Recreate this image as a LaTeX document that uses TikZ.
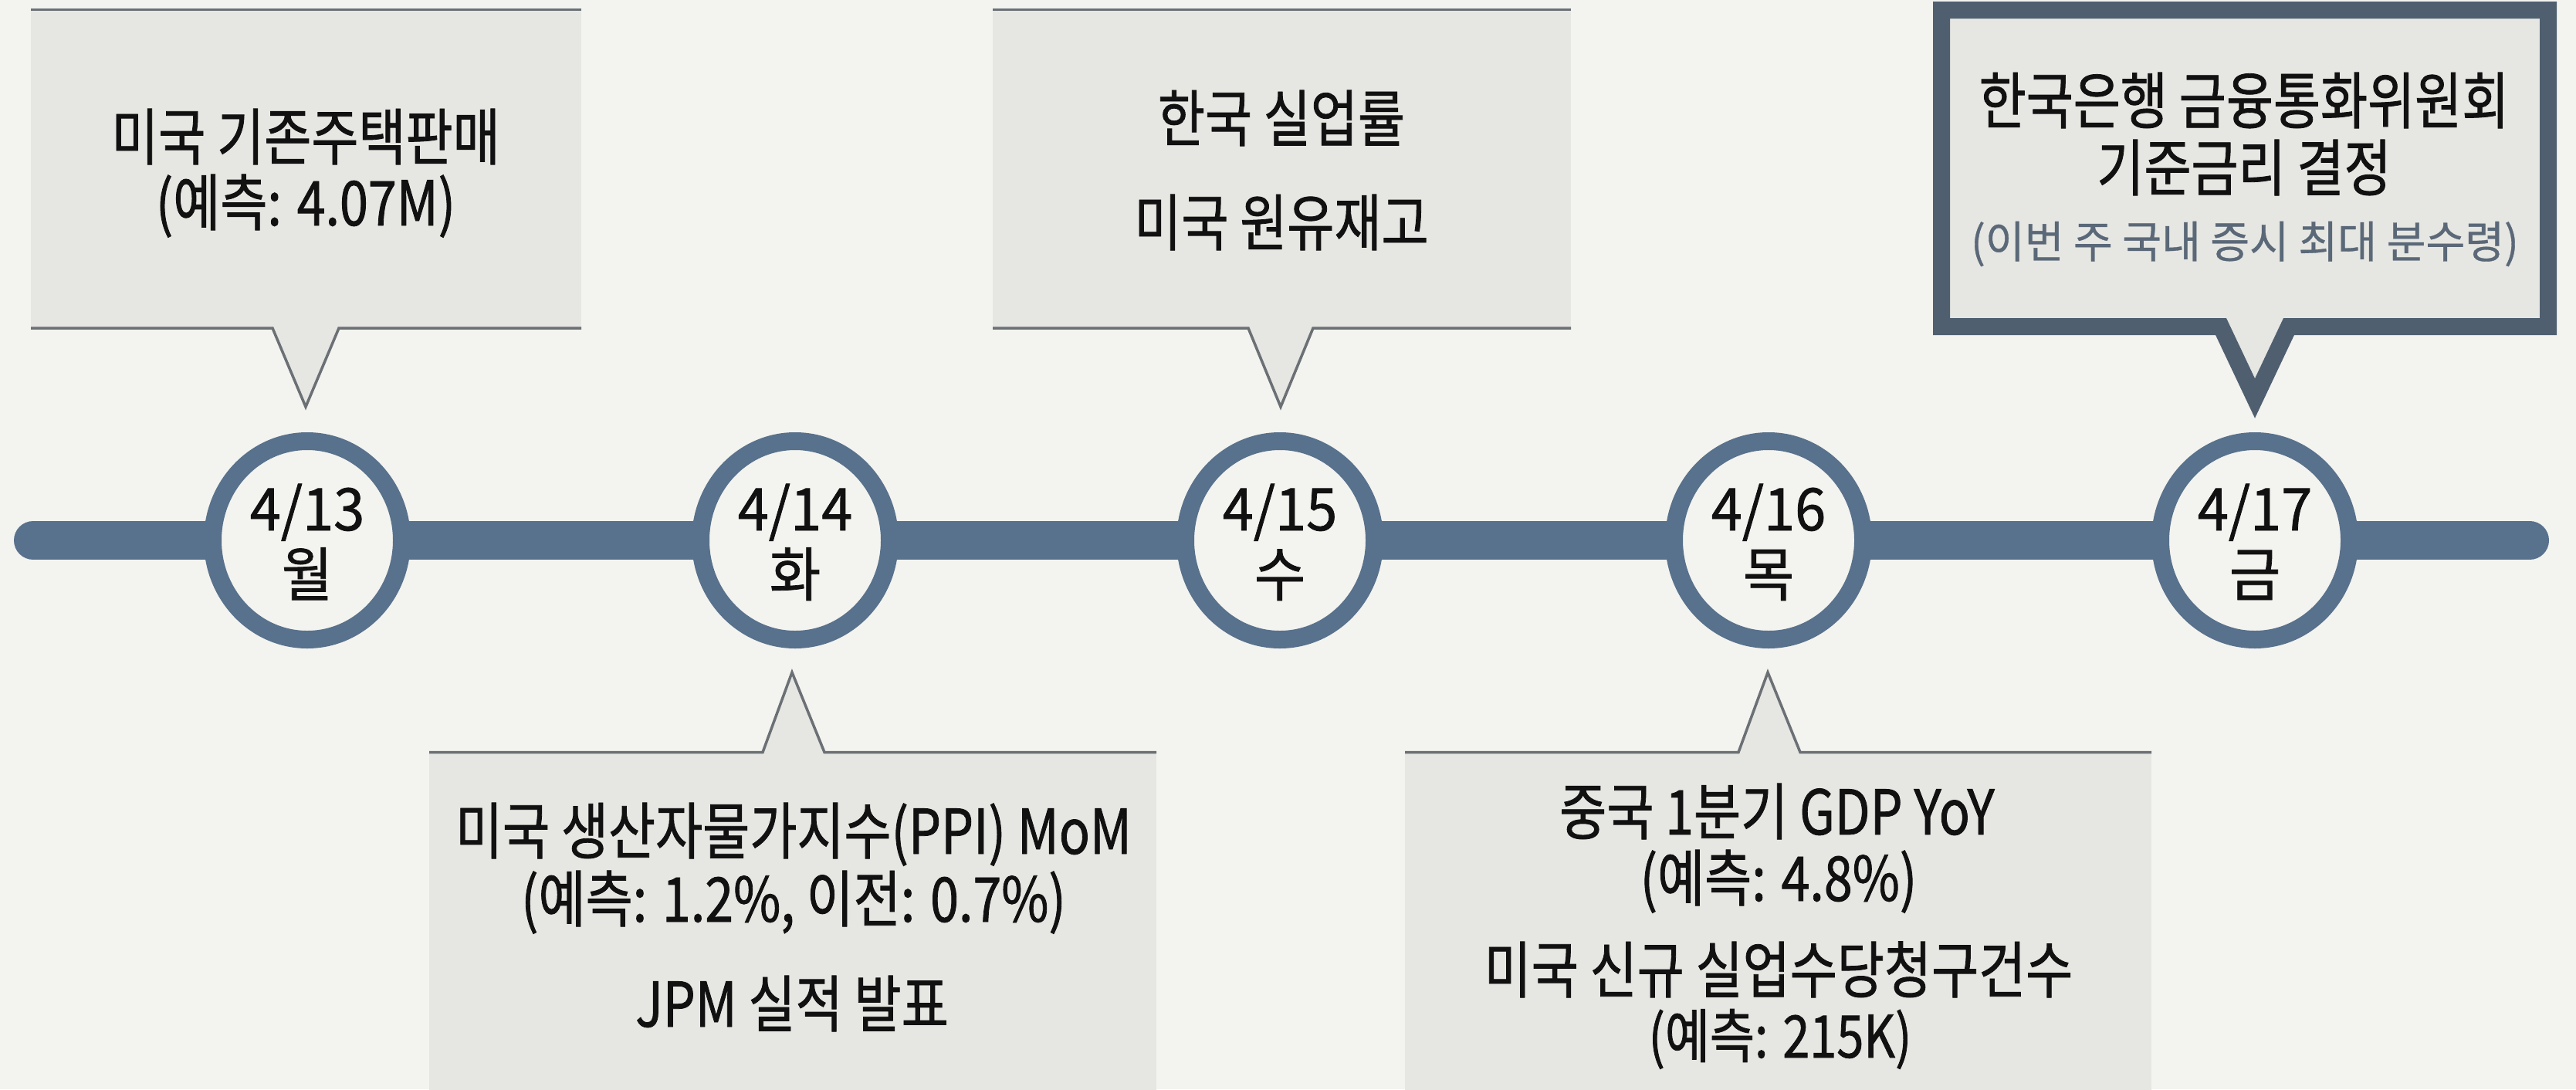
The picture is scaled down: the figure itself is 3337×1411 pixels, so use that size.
\documentclass[tikz,border=0pt]{standalone}
\usepackage{fontspec}
\setmainfont{Noto Sans CJK KR}[FakeStretch=0.83,FakeBold=1]
\newfontfamily\krsub{Noto Sans CJK KR}[FakeStretch=0.97,FakeBold=0.6]
\newfontfamily\krday{Noto Sans CJK KR}[FakeStretch=0.95,FakeBold=1]
\usetikzlibrary{shapes.geometric}
\definecolor{bgc}{HTML}{F3F3EF}
\definecolor{boxc}{HTML}{E6E6E2}
\definecolor{edgec}{HTML}{6B7075}
\definecolor{barc}{HTML}{58718C}
\definecolor{framec}{HTML}{4F5F70}
\definecolor{subc}{HTML}{5A6878}
\definecolor{txtc}{HTML}{111111}
\begin{document}
\begin{tikzpicture}[x=1pt,y=-1pt,
  txt/.style={anchor=base,inner sep=0,font=\fontsize{80}{94}\selectfont,text=txtc},
  smalltxt/.style={anchor=base,inner sep=0,font=\fontsize{76}{90}\selectfont,text=txtc},
  subtxt/.style={anchor=base,inner sep=0,font=\krsub\fontsize{57}{66}\selectfont,text=subc},
  daytxt/.style={anchor=base,inner sep=0,font=\krday\fontsize{76}{90}\selectfont,text=txtc},
  day/.style={ellipse,draw=barc,line width=23,fill=bgc,minimum width=245,minimum height=257,inner sep=0},
  edge/.style={draw=edgec,line width=3.5,miter limit=20},
  boxfill/.style={fill=boxc},
  bar/.style={draw=barc,line width=50,line cap=round},
  frame/.style={draw=framec,fill=boxc,line width=22,line join=miter,miter limit=20}]
\useasboundingbox (0,0) rectangle (3337,1411);
\fill[bgc] (0,0) rectangle (3337,1411);

% timeline
\coordinate (L) at (43,700);
\coordinate (R) at (3277,700);
\draw[bar] (L) -- (R);

% top box 1
\fill[boxfill] (40,12.5) rectangle (753,425);
\fill[boxfill] (353,424) -- (396,527) -- (439,424) -- cycle;
\draw[edge] (40,12.5) -- (753,12.5);
\draw[edge] (40,425) -- (353,425) -- (396,527) -- (439,425) -- (753,425);

% top box 2
\fill[boxfill] (1286,12.5) rectangle (2035,425);
\fill[boxfill] (1617,424) -- (1659,527) -- (1701,424) -- cycle;
\draw[edge] (1286,12.5) -- (2035,12.5);
\draw[edge] (1286,425) -- (1617,425) -- (1659,527) -- (1701,425) -- (2035,425);

% top box 3 (highlighted)
\draw[frame] (2515,13) -- (3301,13) -- (3301,423) -- (2965,423) -- (2921,516) -- (2877,423) -- (2515,423) -- cycle;

% bottom box 4
\fill[boxfill] (556,974.5) rectangle (1498,1420);
\fill[boxfill] (988,976) -- (1026,871) -- (1068,976) -- cycle;
\draw[edge] (556,974.5) -- (988,974.5) -- (1026,871) -- (1068,974.5) -- (1498,974.5);

% bottom box 5
\fill[boxfill] (1820,974.5) rectangle (2787,1420);
\fill[boxfill] (2252,976) -- (2290,871) -- (2332,976) -- cycle;
\draw[edge] (1820,974.5) -- (2252,974.5) -- (2290,871) -- (2332,974.5) -- (2787,974.5);

% day circles
\node[day] (c13) at (398,700) {};
\node[day] (c14) at (1030,700) {};
\node[day] (c15) at (1658,700) {};
\node[day] (c16) at (2291,700) {};
\node[day] (c17) at (2921,700) {};

\node[daytxt] (d13a) at (398,687) {4/13};
\node[daytxt] (d13b) at (398,772) {월};
\node[daytxt] (d14a) at (1030,687) {4/14};
\node[daytxt] (d14b) at (1030,772) {화};
\node[daytxt] (d15a) at (1658,687) {4/15};
\node[daytxt] (d15b) at (1658,772) {수};
\node[daytxt] (d16a) at (2291,687) {4/16};
\node[daytxt] (d16b) at (2291,772) {목};
\node[daytxt] (d17a) at (2921,687) {4/17};
\node[daytxt] (d17b) at (2921,772) {금};

% box texts
\node[txt] (t1a) at (396,207) {미국 기존주택판매};
\node[txt] (t1b) at (396,292) {(예측: 4.07M)};

\node[txt] (t2a) at (1660,183) {한국 실업률};
\node[txt] (t2b) at (1660,318) {미국 원유재고};

\node[txt] (t3a) at (2907,160) {한국은행 금융통화위원회};
\node[txt] (t3b) at (2907,247) {기준금리 결정};
\node[subtxt] (t3c) at (2908,334) {(이번 주 국내 증시 최대 분수령)};

\node[txt] (t4a) at (1028,1106) {미국 생산자물가지수(PPI) MoM};
\node[txt] (t4b) at (1028,1194) {(예측: 1.2\%, 이전: 0.7\%)};
\node[txt] (t4c) at (1026,1330) {JPM 실적 발표};

\node[txt] (t5a) at (2302,1081) {중국 1분기 GDP YoY};
\node[txt] (t5b) at (2304,1167) {(예측: 4.8\%)};
\node[txt] (t5c) at (2304,1286) {미국 신규 실업수당청구건수};
\node[smalltxt] (t5d) at (2306,1370) {(예측: 215K)};
\end{tikzpicture}
\end{document}
